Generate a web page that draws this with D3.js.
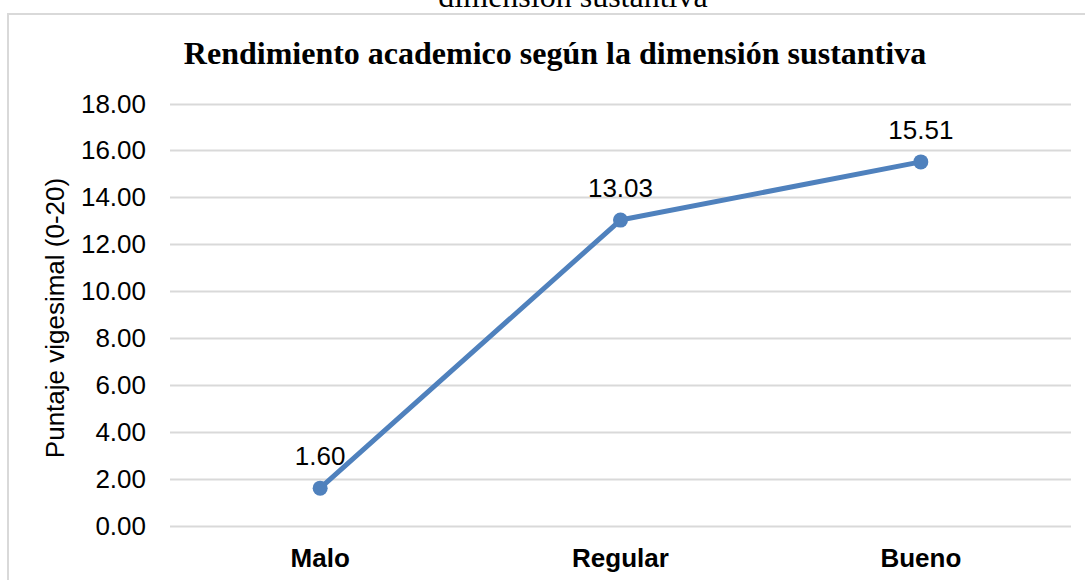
<!DOCTYPE html>
<html>
<head>
<meta charset="utf-8">
<script src="https://cdn.jsdelivr.net/npm/d3@7"></script>
<style>
  body { margin: 0; background: #fff; }
  svg { display: block; }
</style>
</head>
<body>
<script>
var categories = ['Malo', 'Regular', 'Bueno'];
var values = [1.60, 13.03, 15.51];
var yTicks = [0, 2, 4, 6, 8, 10, 12, 14, 16, 18];

var W = 1085, H = 580;
var svg = d3.select('body').append('svg').attr('width', W).attr('height', H);

// text from the page above, cut off by the top edge
svg.append('text')
  .attr('x', 573).attr('y', 7)
  .attr('text-anchor', 'middle')
  .attr('font-family', 'Liberation Serif, Times New Roman, serif')
  .attr('font-size', 32)
  .text('dimensión sustantiva');

// chart frame (only left and top visible)
svg.append('path')
  .attr('d', 'M8,580 L8,14 L1085,14')
  .attr('fill', 'none')
  .attr('stroke', '#d9d9d9')
  .attr('stroke-width', 2);

svg.append('text')
  .attr('x', 555).attr('y', 64)
  .attr('text-anchor', 'middle')
  .attr('font-family', 'Liberation Serif, Times New Roman, serif')
  .attr('font-weight', 'bold')
  .attr('font-size', 32)
  .text('Rendimiento academico según la dimensión sustantiva');

var x = d3.scaleBand().domain(categories).range([170, 1071]);
var y = d3.scaleLinear().domain([0, 18]).range([525.7, 103.5]);

// gridlines
svg.append('g').selectAll('line').data(yTicks).enter().append('line')
  .attr('x1', 170).attr('x2', 1071)
  .attr('y1', function (d) { return Math.round(y(d)) + 0.5; })
  .attr('y2', function (d) { return Math.round(y(d)) + 0.5; })
  .attr('stroke', '#d9d9d9')
  .attr('stroke-width', 2);

// y tick labels
svg.append('g').selectAll('text').data(yTicks).enter().append('text')
  .attr('x', 146)
  .attr('y', function (d) { return y(d) + 9; })
  .attr('text-anchor', 'end')
  .attr('font-family', 'Liberation Sans, Arial, sans-serif')
  .attr('font-size', 26)
  .attr('fill', '#000')
  .text(function (d) { return d.toFixed(2); });

// category labels
svg.append('g').selectAll('text').data(categories).enter().append('text')
  .attr('x', function (d) { return x(d) + x.bandwidth() / 2; })
  .attr('y', 567)
  .attr('text-anchor', 'middle')
  .attr('font-family', 'Liberation Sans, Arial, sans-serif')
  .attr('font-weight', 'bold')
  .attr('font-size', 26)
  .text(function (d) { return d; });

// y axis title
svg.append('text')
  .attr('transform', 'translate(64,318) rotate(-90)')
  .attr('text-anchor', 'middle')
  .attr('font-family', 'Liberation Sans, Arial, sans-serif')
  .attr('font-size', 26)
  .text('Puntaje vigesimal (0-20)');

var pts = categories.map(function (c, i) {
  return { c: c, v: values[i] };
});

var line = d3.line()
  .x(function (d) { return x(d.c) + x.bandwidth() / 2; })
  .y(function (d) { return y(d.v); });

svg.append('path')
  .datum(pts)
  .attr('d', line)
  .attr('fill', 'none')
  .attr('stroke', '#4f81bd')
  .attr('stroke-width', 5)
  .attr('stroke-linejoin', 'round');

svg.append('g').selectAll('circle').data(pts).enter().append('circle')
  .attr('cx', function (d) { return x(d.c) + x.bandwidth() / 2; })
  .attr('cy', function (d) { return y(d.v); })
  .attr('r', 7.5)
  .attr('fill', '#4f81bd');

// value labels
svg.append('g').selectAll('text').data(pts).enter().append('text')
  .attr('x', function (d) { return x(d.c) + x.bandwidth() / 2; })
  .attr('y', function (d) { return y(d.v) - 23; })
  .attr('text-anchor', 'middle')
  .attr('font-family', 'Liberation Sans, Arial, sans-serif')
  .attr('font-size', 26)
  .text(function (d) { return d.v.toFixed(2); });
</script>
</body>
</html>
